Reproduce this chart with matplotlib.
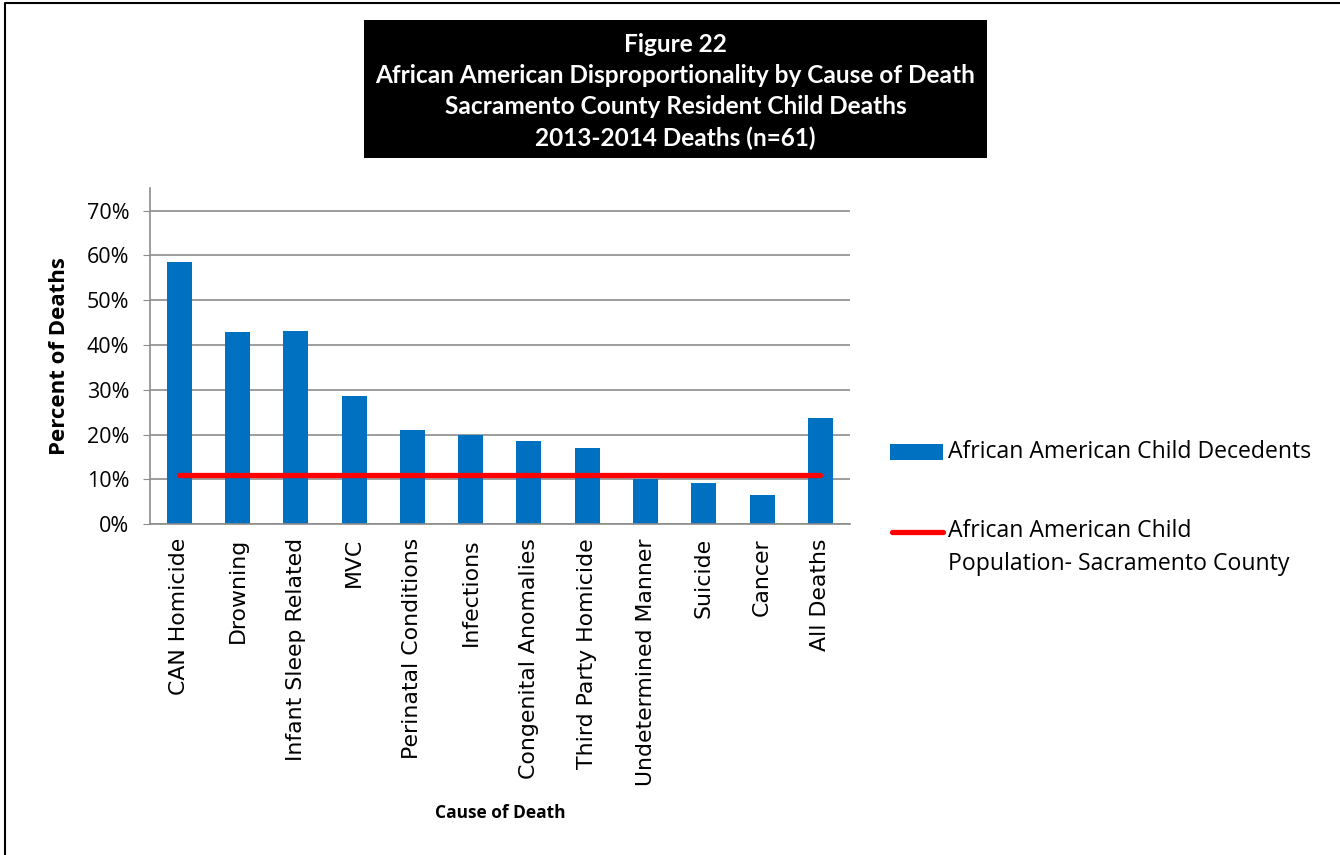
import matplotlib.pyplot as plt
from matplotlib.patches import Rectangle
from matplotlib.lines import Line2D
from matplotlib.ticker import PercentFormatter

causes = ['CAN Homicide', 'Drowning', 'Infant Sleep Related', 'MVC',
          'Perinatal Conditions', 'Infections', 'Congenital Anomalies',
          'Third Party Homicide', 'Undetermined Manner', 'Suicide', 'Cancer',
          'All Deaths']
decedents = [0.585, 0.429, 0.431, 0.286, 0.209, 0.200, 0.185, 0.169,
             0.101, 0.091, 0.065, 0.236]
population = [0.11] * len(causes)

title_lines = ['Figure 22',
               'African American Disproportionality by Cause of Death',
               'Sacramento County Resident Child Deaths',
               '2013-2014 Deaths (n=61)']
legend_labels = ['African American Child Decedents',
                 'African American Child\nPopulation- Sacramento County']

W, H = 1340, 855
fig = plt.figure(figsize=(13.4, 8.55), dpi=100)
ax = fig.add_axes([0.112, 0.387, 0.522, 0.393])

x = list(range(len(causes)))
ax.bar(x, decedents, width=0.43, color='#0070C0', zorder=2)
ax.plot(x, population, color='#FF0000', lw=3.8, solid_capstyle='round', zorder=3)

ax.set_xlim(-0.5, len(causes) - 0.5)
ax.set_ylim(0, 0.75)
ax.set_yticks([i / 10 for i in range(8)])
ax.yaxis.set_major_formatter(PercentFormatter(1.0, decimals=0))
ax.grid(axis='y', color='#8c8c8c', lw=1.2, zorder=0)
ax.set_xticks(x)
ax.set_xticklabels(causes, rotation=90, fontsize=15.8, family='DejaVu Sans')
ax.tick_params(axis='x', length=0, pad=10)
ax.tick_params(axis='y', length=5, color='#8c8c8c', labelsize=15.5, pad=10)
for t in ax.get_yticklabels():
    t.set_family('Open Sans')

for s in ['top', 'right']:
    ax.spines[s].set_visible(False)
for s in ['left', 'bottom']:
    ax.spines[s].set_color('#8c8c8c')
    ax.spines[s].set_linewidth(1.2)

ax.set_ylabel('Percent of Deaths', fontsize=16, fontweight='bold', family='Open Sans', labelpad=12)
fig.text(500 / W, 1 - 813 / H, 'Cause of Death', ha='center', va='center',
         fontsize=12.5, fontweight='bold', family='Open Sans')

# title box
fig.patches.append(Rectangle((364 / W, 1 - 158 / H), 623 / W, 138 / H,
                             transform=fig.transFigure, facecolor='black', zorder=0))
for i, line in enumerate(title_lines):
    fig.text(675.5 / W, 1 - (44 + 31.3 * i) / H, line, ha='center', va='center',
             color='white', fontsize=17.6, fontweight='bold', family='Lato')

# frame
fig.add_artist(Line2D([0.004, 0.004, 1.0], [0.0, 0.996, 0.996], transform=fig.transFigure,
                      color='black', lw=1.5))

# legend
fig.patches.append(Rectangle((890 / W, 1 - 460 / H), 53 / W, 16 / H,
                             transform=fig.transFigure, facecolor='#0070C0'))
fig.text(948 / W, 1 - 452 / H, legend_labels[0], ha='left', va='center',
         fontsize=16.6, family='Open Sans')
fig.add_artist(Line2D([892 / W, 943 / W], [1 - 532 / H] * 2, transform=fig.transFigure,
                      color='#FF0000', lw=3.8, solid_capstyle='round'))
fig.text(948 / W, 1 - 519 / H, legend_labels[1], ha='left', va='top',
         fontsize=16.6, family='Open Sans', linespacing=1.5)

fig.savefig('out.png', dpi=100)
